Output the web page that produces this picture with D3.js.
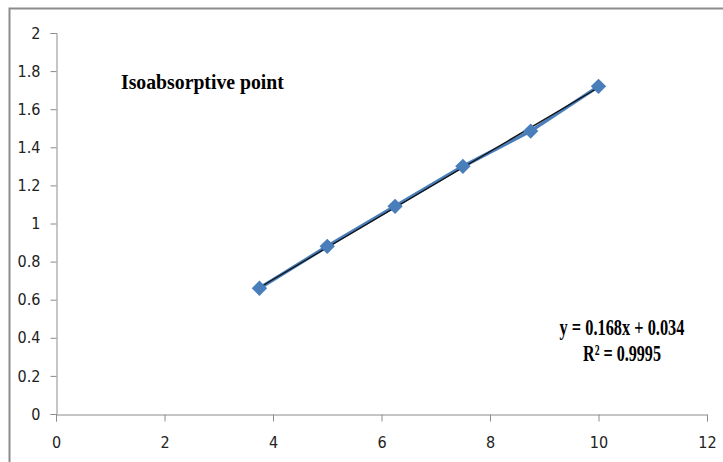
<!DOCTYPE html>
<html>
<head>
<meta charset="utf-8">
<script src="https://cdn.jsdelivr.net/npm/d3@7"></script>
<style>
  body { margin: 0; background: #fff; }
  svg { display: block; }
</style>
</head>
<body>
<div id="chart"></div>
<script>
// data
var conc = [3.75, 5, 6.25, 7.5, 8.75, 10];
var absorb = [0.66, 0.88, 1.09, 1.30, 1.485, 1.72];
var xTicks = [0, 2, 4, 6, 8, 10, 12];
var yTicks = [0, 0.2, 0.4, 0.6, 0.8, 1, 1.2, 1.4, 1.6, 1.8, 2];
var slope = 0.168, intercept = 0.034;
var eqLines = ['y = 0.168x + 0.034', 'R² = 0.9995'];
var eqWidths = [125, 78];

var width = 723, height = 462;
var svg = d3.select('#chart').append('svg')
    .attr('width', width)
    .attr('height', height);

// chart area border (only top and left visible in the crop)
svg.append('path')
    .attr('d', 'M9.5,' + height + 'V8.5H' + width)
    .attr('fill', 'none')
    .attr('stroke', '#8c8c8c')
    .attr('stroke-width', 2);

var x = d3.scaleLinear().domain([0, 12]).range([56, 707]);
var y = d3.scaleLinear().domain([0, 2]).range([414, 33]);

var tickFont = 'Liberation Sans Narrow, DejaVu Sans Condensed, Arial, sans-serif';

// y axis
var yAxis = svg.append('g')
    .attr('transform', 'translate(56.5,0)')
    .call(d3.axisLeft(y).tickValues(yTicks).tickSize(6).tickPadding(10)
        .tickFormat(d3.format('')));
yAxis.select('.domain').attr('stroke', '#8c8c8c');
yAxis.selectAll('.tick line').attr('stroke', '#8c8c8c');
yAxis.selectAll('text')
    .attr('fill', '#222')
    .style('font-family', tickFont)
    .style('font-size', '16px');

// x axis
var xAxis = svg.append('g')
    .attr('transform', 'translate(0,414.5)')
    .call(d3.axisBottom(x).tickValues(xTicks).tickSize(7).tickPadding(15)
        .tickFormat(d3.format('')));
xAxis.select('.domain').attr('stroke', '#8c8c8c');
xAxis.selectAll('.tick line').attr('stroke', '#8c8c8c');
xAxis.selectAll('text')
    .attr('fill', '#222')
    .style('font-family', tickFont)
    .style('font-size', '16px');

var pts = conc.map(function(c, i) { return { x: c, y: absorb[i] }; });

// data line
var line = d3.line()
    .x(function(d) { return x(d.x); })
    .y(function(d) { return y(d.y); });

svg.append('path')
    .datum(pts)
    .attr('d', line)
    .attr('fill', 'none')
    .attr('stroke', '#4a7ebb')
    .attr('stroke-width', 3.5);

// linear trendline
var xMin = d3.min(conc), xMax = d3.max(conc);
svg.append('path')
    .datum([{ x: xMin, y: slope * xMin + intercept }, { x: xMax, y: slope * xMax + intercept }])
    .attr('d', line)
    .attr('fill', 'none')
    .attr('stroke', '#111')
    .attr('stroke-width', 1.3);

// diamond markers
svg.selectAll('.marker')
    .data(pts)
    .enter()
    .append('path')
    .attr('class', 'marker')
    .attr('d', d3.symbol().type(d3.symbolDiamond2).size(150))
    .attr('transform', function(d) { return 'translate(' + x(d.x) + ',' + y(d.y) + ')'; })
    .attr('fill', '#4a7ebb');

// condensed bold serif text: squeeze horizontally to the width seen in the reference
function squeezed(px, py, size, target, anchor, str) {
    var g = svg.append('g');
    var t = g.append('text')
        .attr('text-anchor', anchor)
        .attr('font-family', 'Liberation Serif, Times New Roman, serif')
        .attr('font-weight', 'bold')
        .attr('font-size', size)
        .attr('fill', '#000')
        .text(str);
    var sx = target / t.node().getComputedTextLength();
    g.attr('transform', 'translate(' + px + ',' + py + ') scale(' + sx + ',1)');
    return g;
}

// title inside plot
squeezed(121, 89, 22, 163, 'start', 'Isoabsorptive point');

// equation label
eqLines.forEach(function(d, i) {
    squeezed(622, 335 + i * 26, 23, eqWidths[i], 'middle', d);
});
</script>
</body>
</html>
